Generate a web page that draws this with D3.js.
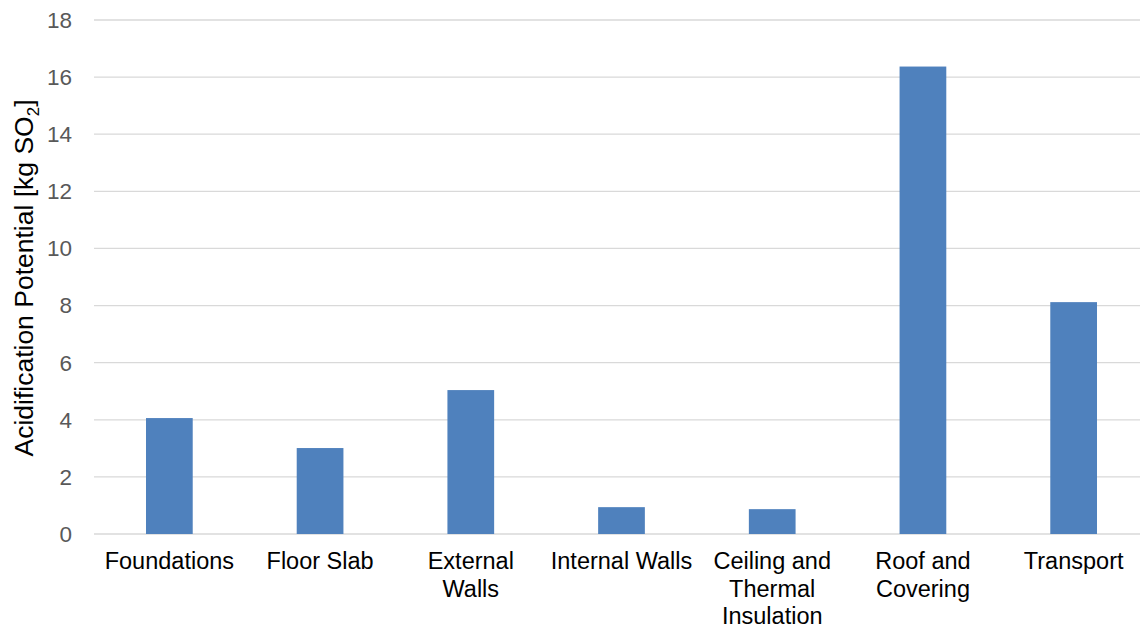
<!DOCTYPE html>
<html><head><meta charset="utf-8">
<script src="https://cdn.jsdelivr.net/npm/d3@7"></script>
<style>body{margin:0;background:#fff}svg{display:block;font-family:"Liberation Sans",Arial,sans-serif}</style>
</head><body><svg id="c" width="1140" height="631"></svg>
<script>
const categories = [["Foundations"],["Floor Slab"],["External","Walls"],["Internal Walls"],["Ceiling and","Thermal","Insulation"],["Roof and","Covering"],["Transport"]];
const values = [4.06, 3.01, 5.04, 0.94, 0.87, 16.37, 8.12];
const yTicks = [0,2,4,6,8,10,12,14,16,18];

(function(){
const svg = d3.select("#c");
const pl = 94, pr = 1149, pt = 20, pb = 534;
const x = d3.scaleBand().domain(d3.range(categories.length)).range([pl, pr]).paddingInner(0.69).paddingOuter(0.345);
const y = d3.scaleLinear().domain([0,18]).range([pb, pt]);

const g = svg.append("g");
g.selectAll("line.grid").data(yTicks).join("line")
  .attr("x1", pl).attr("x2", 1140)
  .attr("y1", d=>y(d)).attr("y2", d=>y(d))
  .attr("stroke", "#d9d9d9").attr("stroke-width", 1.3);

g.selectAll("text.yt").data(yTicks).join("text")
  .attr("x", 72).attr("y", d=>y(d)).attr("dy","0.35em")
  .attr("text-anchor","end").attr("font-size", 22.5).attr("fill","#595959")
  .text(d=>d);

g.selectAll("rect.bar").data(values).join("rect")
  .attr("x", (d,i)=>x(i)).attr("width", x.bandwidth())
  .attr("y", d=>y(d)).attr("height", d=>y(0)-y(d))
  .attr("fill", "#4f81bd");

const xl = g.selectAll("text.xl").data(categories).join("text")
  .attr("text-anchor","middle").attr("font-size", 23.5).attr("fill","#000")
  .attr("transform", (d,i)=>`translate(${x(i)+x.bandwidth()/2},569)`);
xl.selectAll("tspan").data(d=>d).join("tspan")
  .attr("x",0).attr("y",(d,j)=>j*27.5).text(d=>d);

const t = svg.append("text").attr("transform","translate(33,278) rotate(-90)")
  .attr("text-anchor","middle").attr("font-size",26.5).attr("fill","#000");
t.append("tspan").text("Acidification Potential [kg SO");
t.append("tspan").attr("font-size",17).attr("dy",6).text("2");
t.append("tspan").attr("dy",-6).text("]");
})();
</script></body></html>
